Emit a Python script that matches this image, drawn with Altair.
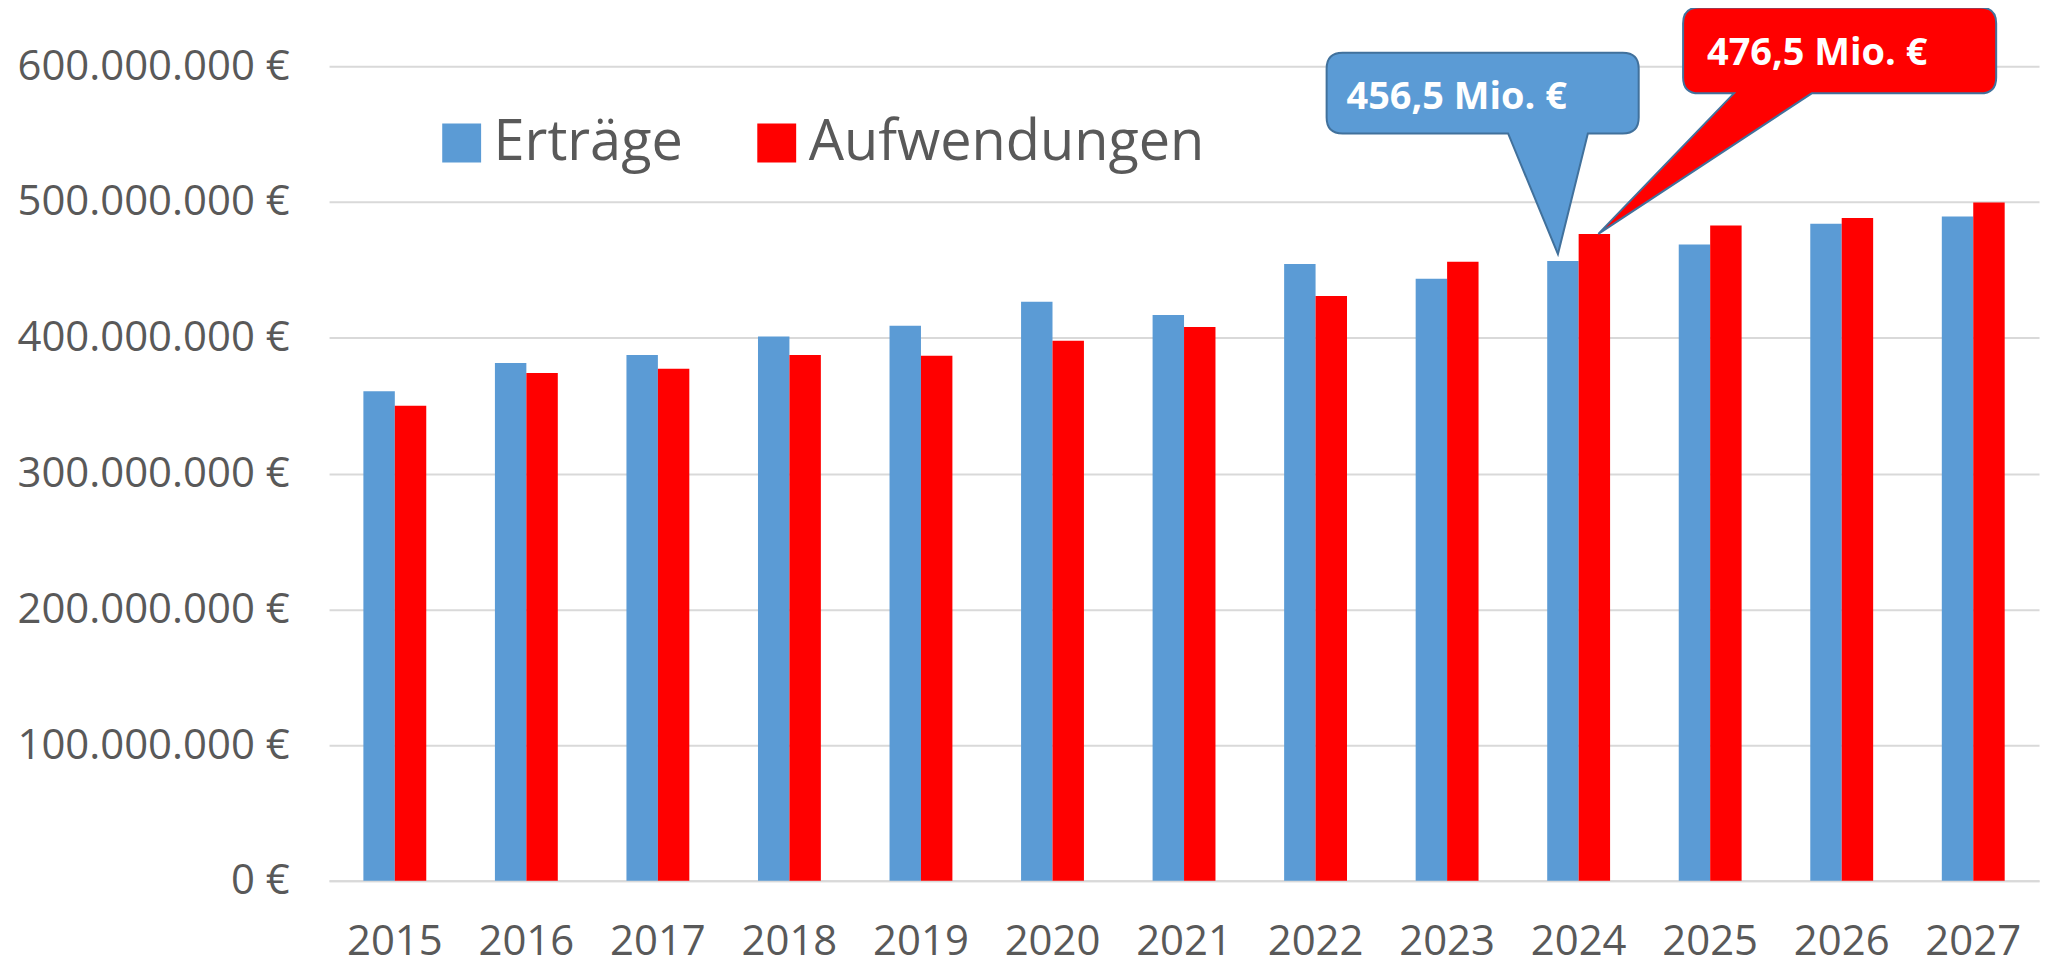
import altair as alt
import pandas as pd

# ---- data (values in Mio. €) ----
years = [str(y) for y in range(2015, 2028)]
ertraege = [360.7, 381.4, 387.3, 401.0, 408.8, 426.5, 416.8, 454.4, 443.5, 456.5, 468.7, 484.0, 489.4]
aufwendungen = [349.9, 374.0, 377.2, 387.3, 386.7, 397.8, 407.9, 430.7, 456.0, 476.5, 482.7, 488.2, 499.7]
series = ["Erträge", "Aufwendungen"]
colors = ["#5B9BD5", "#FF0000"]
y_ticks = [0, 100e6, 200e6, 300e6, 400e6, 500e6, 600e6]
callout_year = "2024"
callout_texts = ["456,5 Mio. €", "476,5 Mio. €"]

rows = []
for i, yr in enumerate(years):
    rows.append({"year": yr, "series": series[0], "value": ertraege[i] * 1e6})
    rows.append({"year": yr, "series": series[1], "value": aufwendungen[i] * 1e6})
df = pd.DataFrame(rows)

idx = years.index(callout_year)
call_df = pd.DataFrame([
    {"year": callout_year, "series": series[0], "value": ertraege[idx] * 1e6, "text": callout_texts[0]},
    {"year": callout_year, "series": series[1], "value": aufwendungen[idx] * 1e6, "text": callout_texts[1]},
])

FONT = "Open Sans"
GREY = "#595959"

x_enc = alt.X("year:N", sort=years, title=None,
              scale=alt.Scale(paddingInner=0.522, paddingOuter=0.261),
              axis=alt.Axis(labelAngle=0, labelFontSize=42, labelFont=FONT, labelColor=GREY,
                            labelPadding=41, ticks=False, domainColor="#D9D9D9", domainWidth=2,
                            grid=False, labelLimit=0))
xo_enc = alt.XOffset("series:N", sort=series, scale=alt.Scale(paddingInner=0, paddingOuter=0))
y_enc = alt.Y("value:Q", title=None,
              scale=alt.Scale(domain=[0, 600e6], nice=False),
              axis=alt.Axis(values=y_ticks,
                            labelExpr="replace(format(datum.value, ','), regexp(',', 'g'), '.') + ' €'",
                            grid=True, gridColor="#D9D9D9", gridWidth=2, domain=False, ticks=False,
                            labelFontSize=42, labelFont=FONT, labelColor=GREY, labelPadding=40,
                            labelLimit=0))

bars = alt.Chart(df).mark_bar(opacity=1).encode(
    x=x_enc, xOffset=xo_enc, y=y_enc,
    color=alt.Color("series:N", sort=series,
                    scale=alt.Scale(domain=series, range=colors),
                    legend=alt.Legend(title=None, orient="none", legendX=105, legendY=49,
                                      direction="horizontal", symbolType="square",
                                      symbolSize=1521, symbolStrokeWidth=0, symbolOpacity=1,
                                      labelFontSize=56, labelFont=FONT, labelColor=GREY,
                                      labelOffset=4, columnPadding=66, padding=0,
                                      labelLimit=0)),
)


def callout_path(L, R, T, B, p1, p2, tip, r=16):
    return (f"M {L+r},{T} L {R-r},{T} Q {R},{T} {R},{T+r} L {R},{B-r} Q {R},{B} {R-r},{B} "
            f"L {p2},{B} L {tip[0]},{tip[1]} L {p1},{B} L {L+r},{B} Q {L},{B} {L},{B-r} "
            f"L {L},{T+r} Q {L},{T} {L+r},{T} Z")


blue_path = callout_path(-237, 76, -209, -128, -55, 25, (-5, -7))
red_path = callout_path(89, 403, -227, -141, 140, 218, (4, 0))

base_call = alt.Chart(call_df).encode(x=alt.X("year:N", sort=years), xOffset=alt.XOffset("series:N", sort=series),
                                      y=alt.Y("value:Q"))

blue_shape = base_call.transform_filter(alt.datum.series == series[0]).mark_point(
    shape=blue_path, size=4, filled=True, fill=colors[0], stroke="#41719C", strokeWidth=2,
    opacity=1, fillOpacity=1, strokeOpacity=1)
red_shape = base_call.transform_filter(alt.datum.series == series[1]).mark_point(
    shape=red_path, size=4, filled=True, fill=colors[1], stroke="#41719C", strokeWidth=2,
    opacity=1, fillOpacity=1, strokeOpacity=1)

blue_text = base_call.transform_filter(alt.datum.series == series[0]).mark_text(
    align="left", baseline="alphabetic", dx=-217, dy=-153, fontSize=38, fontWeight="bold",
    font=FONT, color="white").encode(text="text:N")
red_text = base_call.transform_filter(alt.datum.series == series[1]).mark_text(
    align="left", baseline="alphabetic", dx=113, dy=-169, fontSize=38, fontWeight="bold",
    font=FONT, color="white").encode(text="text:N")

chart = alt.layer(bars, blue_shape, red_shape, blue_text, red_text).properties(
    width=1715, height=817,
    autosize=alt.AutoSizeParams(type="none"),
    padding={"left": 322, "top": 57, "right": 6, "bottom": 88},
    background="white",
).configure_view(stroke=None)

chart.save("out.html", embed_options={"renderer": "svg", "actions": False})
